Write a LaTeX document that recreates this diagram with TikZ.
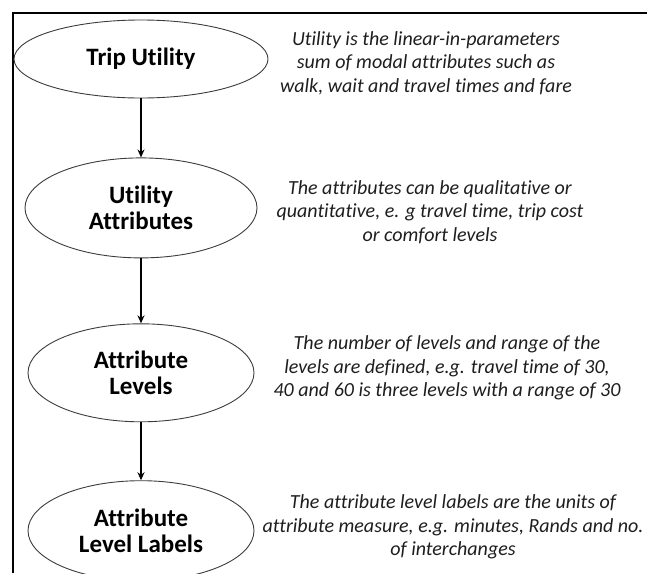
\documentclass[tikz,border=0pt]{standalone}
\usepackage{fontspec}
\setmainfont{Carlito}[Ligatures=NoCommon]
\usetikzlibrary{positioning,arrows.meta,shapes.geometric}
\definecolor{stagegray}{RGB}{60,60,60}
\definecolor{notegray}{RGB}{30,30,30}

\begin{document}
\begin{tikzpicture}[
    x=1pt, y=-1pt, >={Stealth[length=8pt,width=7pt]},
    stage/.style={draw=stagegray, ellipse, line width=0.9pt, inner sep=0pt, align=center,
                  font=\fontsize{25}{26}\selectfont\bfseries},
    note/.style={align=center, text=notegray, inner sep=0pt,
                 font=\fontsize{20}{23.5}\selectfont\itshape},
    flow/.style={->, line width=1.8pt}
  ]
    \useasboundingbox (0,0) rectangle (647,573);

    % outer frame (top and left edges)
    \draw[line width=1.8pt] (13,573) -- (13,13) -- (647,13);

    % stages
    \node[stage, minimum width=254pt, minimum height=78pt]  (trip)  at (141,59) {Trip Utility};
    \node[stage, minimum width=232pt, minimum height=100pt] (attr)  [below=59pt of trip] {Utility\\Attributes};
    \node[stage, minimum width=226pt, minimum height=98pt]  (lev)   [below=65pt of attr] {Attribute\\Levels};
    \node[stage, minimum width=226pt, minimum height=100pt] (lab)   [below=58pt of lev]  {Attribute\\Level Labels};

    % descriptions
    \node[note] (ntrip) at (426,63)  {Utility is the linear-in-parameters\\sum of modal attributes such as\\walk, wait and travel times and fare};
    \node[note] (nattr) at (430,212) {The attributes can be qualitative or\\quantitative, e. g travel time, trip cost\\or comfort levels};
    \node[note] (nlev)  at (447,368) {The number of levels and range of the\\levels are defined, e.g. travel time of 30,\\40 and 60 is three levels with a range of 30};
    \node[note] (nlab)  at (453,527) {The attribute level labels are the units of\\attribute measure, e.g. minutes, Rands and no.\\of interchanges};

    % arrows between stages
    \draw[flow] (trip) -- (attr);
    \draw[flow] (attr) -- (lev);
    \draw[flow] (lev)  -- (lab);
\end{tikzpicture}
\end{document}
